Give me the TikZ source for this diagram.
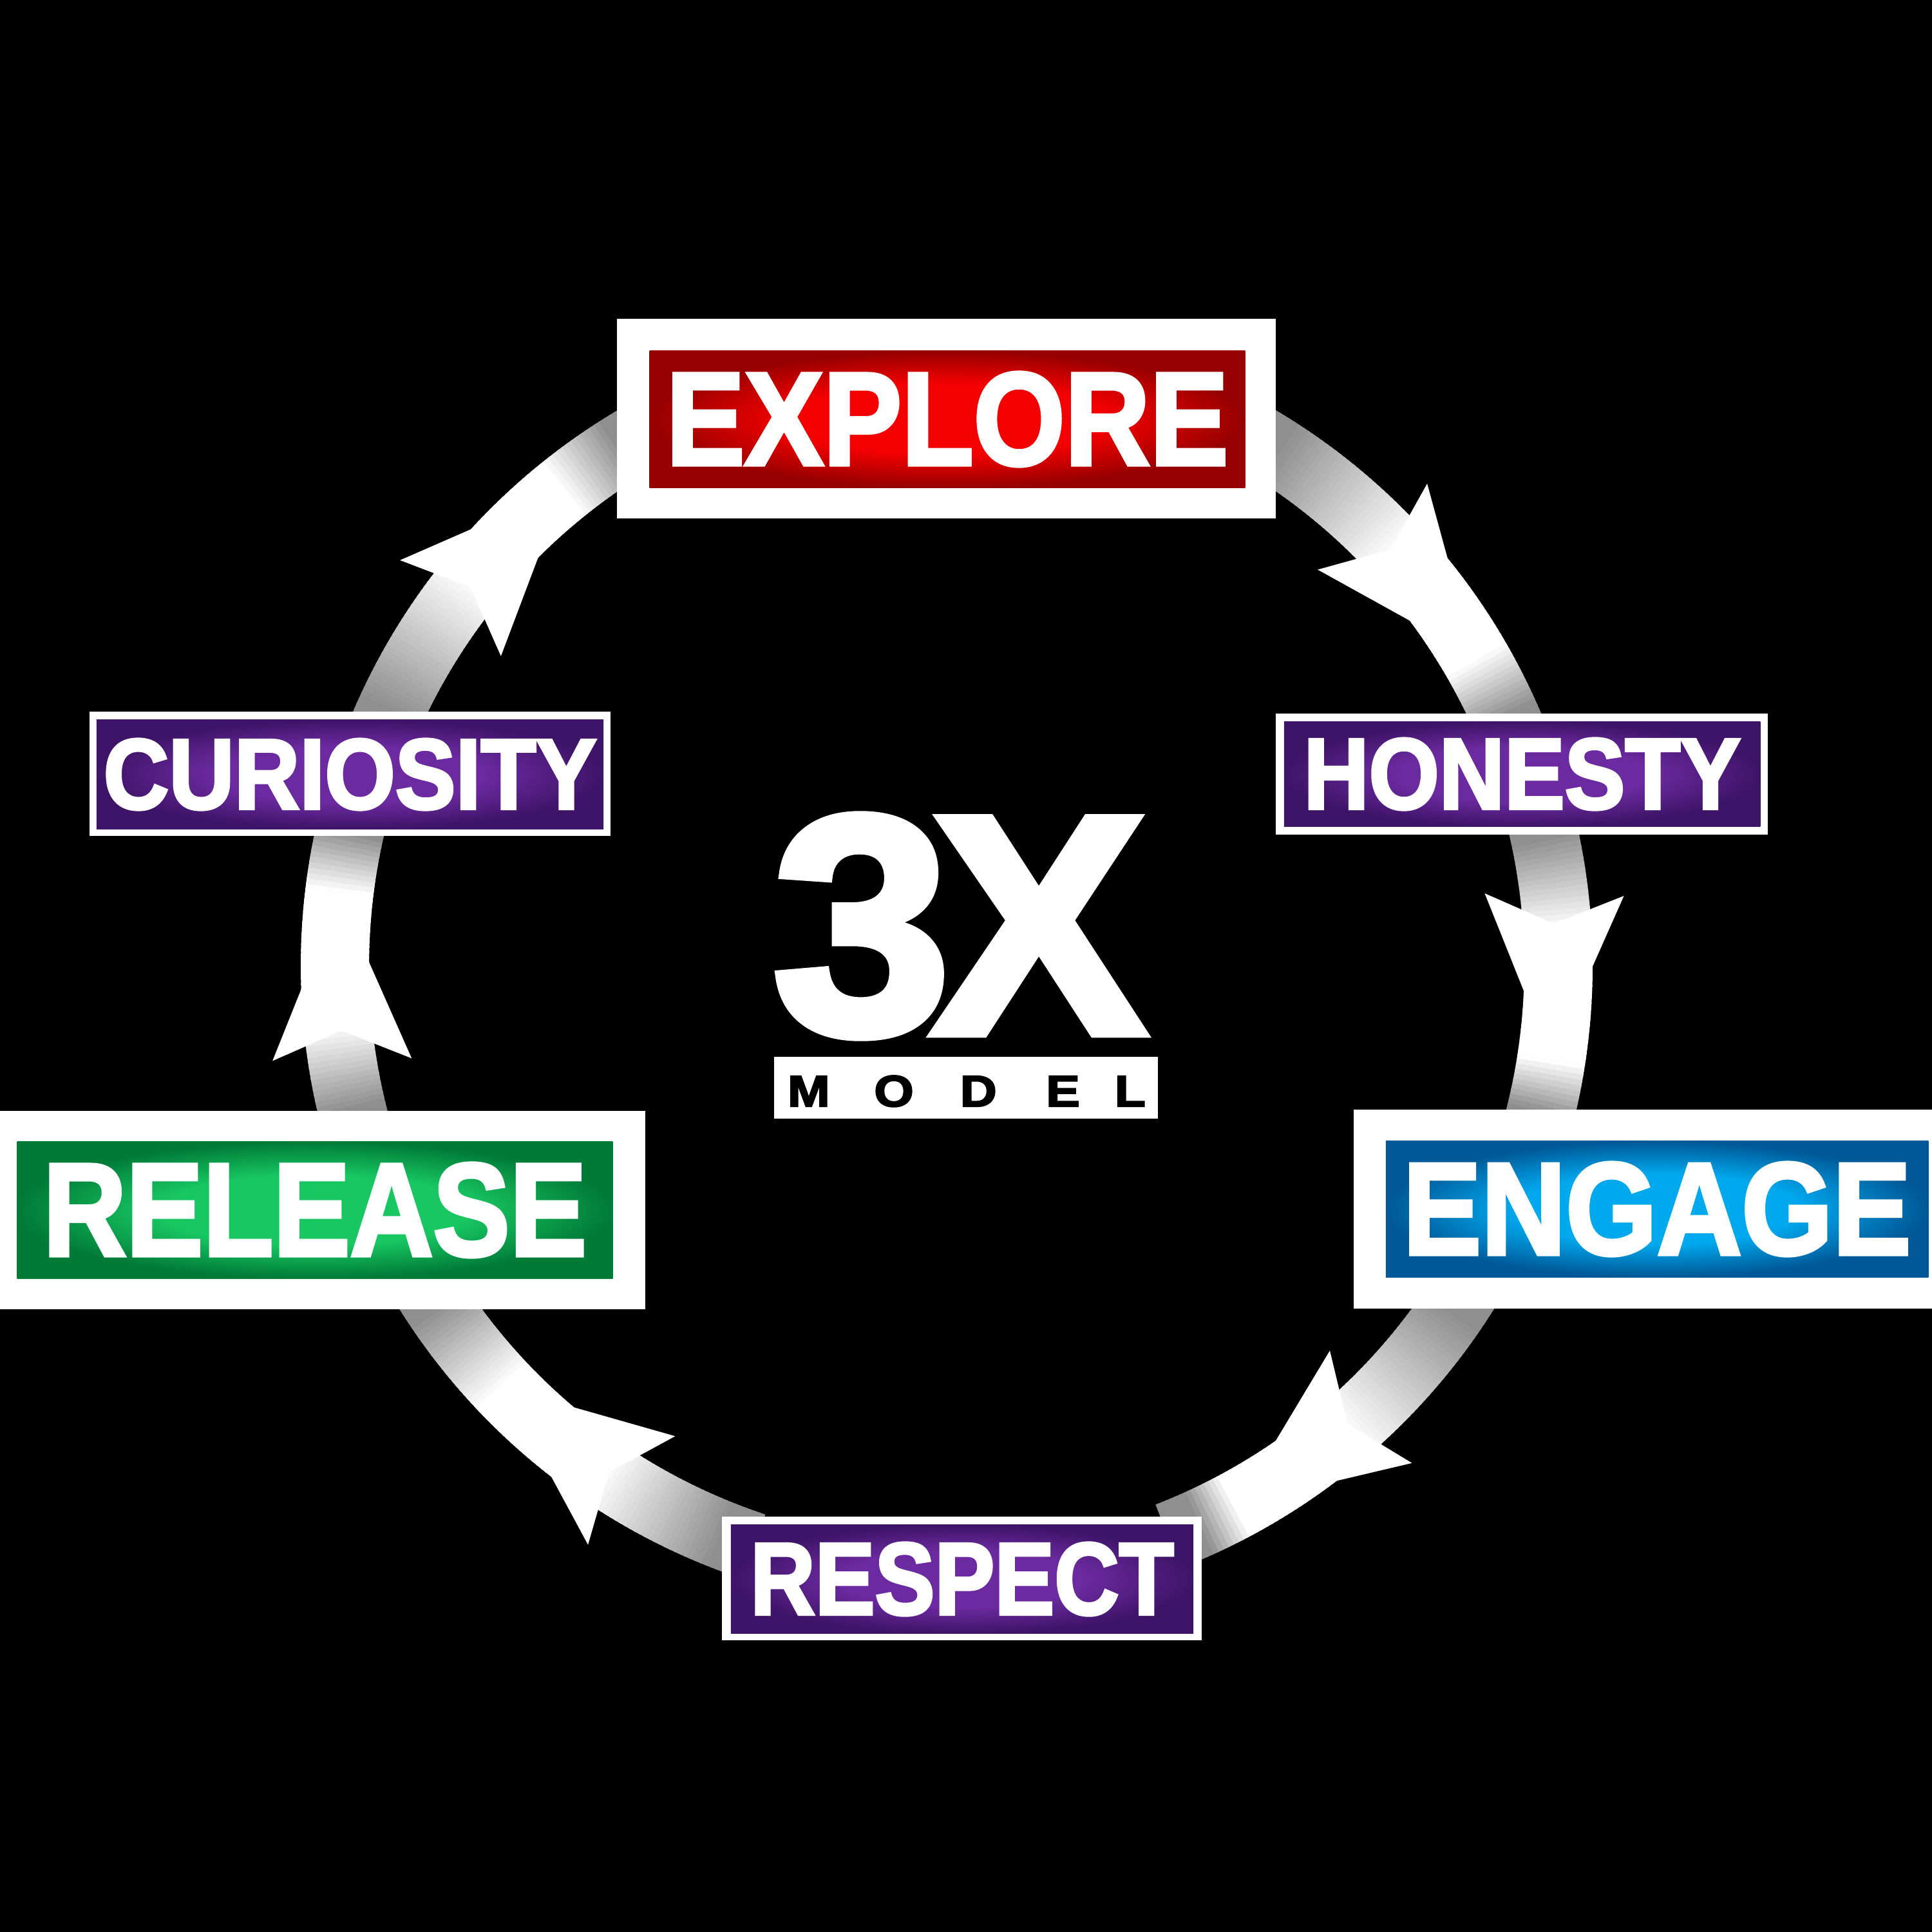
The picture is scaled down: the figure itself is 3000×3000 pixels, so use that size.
\documentclass[tikz,border=0pt]{standalone}
\usepackage{fontspec}
\setmainfont{Liberation Sans}
\newfontfamily\heavy{Liberation Sans Bold}[FakeBold=3]
\usetikzlibrary{calc}
\definecolor{redin}{RGB}{245,0,0}
\definecolor{redout}{RGB}{150,0,0}
\definecolor{purin}{RGB}{108,42,160}
\definecolor{purout}{RGB}{62,20,104}
\definecolor{bluin}{RGB}{0,168,238}
\definecolor{bluout}{RGB}{0,88,150}
\definecolor{grein}{RGB}{24,198,98}
\definecolor{greout}{RGB}{0,122,55}
\pgfdeclareradialshading{vigred}{\pgfpoint{0bp}{0bp}}{color(0bp)=(redin); color(13bp)=(redin); color(25bp)=(redout); color(50bp)=(redout)}
\pgfdeclareradialshading{vigpur}{\pgfpoint{0bp}{0bp}}{color(0bp)=(purin); color(13bp)=(purin); color(25bp)=(purout); color(50bp)=(purout)}
\pgfdeclareradialshading{vigblu}{\pgfpoint{0bp}{0bp}}{color(0bp)=(bluin); color(13bp)=(bluin); color(25bp)=(bluout); color(50bp)=(bluout)}
\pgfdeclareradialshading{viggre}{\pgfpoint{0bp}{0bp}}{color(0bp)=(grein); color(13bp)=(grein); color(25bp)=(greout); color(50bp)=(greout)}
\newcommand\wl[1]{\scalebox{1.15}[1]{#1}}
\tikzset{
  whitebox/.style={fill=white, inner sep=0pt, outer sep=0pt},
  labelbox/.style={inner sep=0pt, outer sep=0pt, shading=#1, text=white, font=\heavy},
  headshape/.style={fill=white},
}
\begin{document}
\begin{tikzpicture}[x=0.01cm,y=-0.01cm]
\useasboundingbox (0,0) rectangle (3000,3000);
\fill[black] (0,0) rectangle (3000,3000);

% ---- ring band with shading along its length
\begin{scope}[shift={(1470,1500)}]
\foreach \s/\b/\t/\e in {302.5/314.1/329.6/335.6, 347.7/353.3/368.6/373.5, 34.1/46.1/61.6/65.4, 111.3/121.0/136.3/145.9, 166.3/171.2/186.7/192.3, 204.4/215.8/230.9/237.4}{
  \pgfmathsetmacro\ss{\s-3}
  \pgfmathtruncatemacro\N{(\e+3-\ss)/0.5}
  \foreach \i in {0,...,\N}{
    \pgfmathsetmacro\a{\ss+0.5*\i}
    \pgfmathsetmacro\lv{(\a<\b+3) ? max(56,min(100,56+44*(\a-\s)/(\b+3-\s))) : ((\a>\t) ? max(56,100-44*(\a-\t)/(\e-\t)) : 100)}
    \pgfmathsetmacro\aa{\a+0.7}
    \fill[white!\lv!black] (\a:897) -- (\a:1003) -- (\aa:1003) -- (\aa:897) -- cycle;
  }
}
% ---- arrowheads
\foreach \b in {314.1,353.3,46.1,121.0,171.2,215.8}{
  \pgfmathsetmacro\bt{\b+15.5}
  \coordinate (P) at (\b:950);
  \coordinate (T) at (\bt:950);
  \fill[headshape] (T) -- ($(P)!1.08cm!90:(T)$) -- ($(P)!0.45cm!(T)$) -- ($(P)!1.08cm!-90:(T)$) -- cycle;
}
\end{scope}

% ---- label boxes
\node[whitebox, minimum width=10.23cm, minimum height=3.10cm] (explore) at (1469.5,650) {};
\node[labelbox=vigred, minimum width=9.24cm, minimum height=2.12cm] (exploreIn) at (1471,651) {\resizebox{8.72cm}{1.43cm}{EXPLORE}};

\node[whitebox, minimum width=7.64cm, minimum height=1.88cm] (honesty) at (2363,1202) {};
\node[labelbox=vigpur, minimum width=7.39cm, minimum height=1.62cm] (honestyIn) at (2363.5,1202) {\resizebox{6.78cm}{1.09cm}{HONESTY}};

\node[whitebox, minimum width=8.09cm, minimum height=1.93cm] (curiosity) at (543.5,1201.5) {};
\node[labelbox=vigpur, minimum width=7.87cm, minimum height=1.69cm] (curiosityIn) at (543.5,1202.5) {\resizebox{7.65cm}{1.08cm}{CURIOSITY}};

\node[whitebox, minimum width=9.03cm, minimum height=3.09cm] (engage) at (2553.5,1877.5) {};
\node[labelbox=vigblu, minimum width=8.42cm, minimum height=2.11cm] (engageIn) at (2573,1877.5) {\resizebox{7.88cm}{1.42cm}{ENGAGE}};

\node[whitebox, minimum width=10.07cm, minimum height=3.08cm] (release) at (498.5,1879) {};
\node[labelbox=viggre, minimum width=9.24cm, minimum height=2.12cm] (releaseIn) at (489,1879) {\resizebox{8.43cm}{1.43cm}{RELEASE}};

\node[whitebox, minimum width=7.45cm, minimum height=1.92cm] (respect) at (1493.5,2451) {};
\node[labelbox=vigpur, minimum width=7.18cm, minimum height=1.68cm] (respectIn) at (1494,2452) {\resizebox{6.57cm}{1.11cm}{RESPECT}};

% ---- centre logo
\node[inner sep=0pt, text=white, font=\heavy] (threex) at (1489,1438) {\resizebox{5.78cm}{3.37cm}{3\kern-0.06em X}};
\node[whitebox, minimum width=5.96cm, minimum height=0.96cm] (modelbox) at (1500,1689) {};
\node[inner sep=0pt, text=black, font=\heavy, anchor=base west] (modeltext) at (1222.25,1718) {\fontsize{19.5pt}{20pt}\selectfont\wl{M}\hspace{0.687cm}\wl{O}\hspace{0.72cm}\wl{D}\hspace{0.764cm}\wl{E}\hspace{0.54cm}\wl{L}};
\end{tikzpicture}
\end{document}
